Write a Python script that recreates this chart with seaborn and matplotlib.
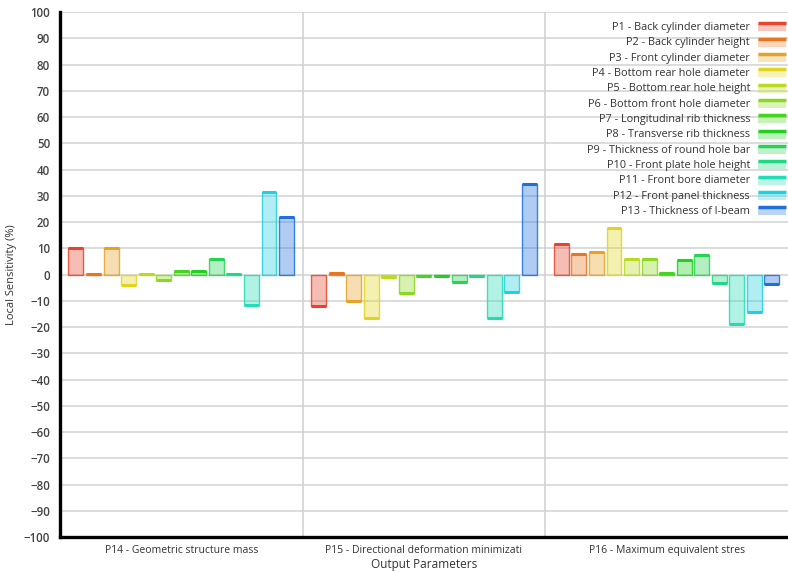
import numpy as np
import pandas as pd
import matplotlib
matplotlib.use("Agg")
import matplotlib.pyplot as plt
import seaborn as sns
from matplotlib.patches import Rectangle
from matplotlib.lines import Line2D
from matplotlib.colors import to_rgba
from matplotlib.legend_handler import HandlerBase

# --------------------------
# Data
# --------------------------
params = [
    "P1 - Back cylinder diameter",
    "P2 - Back cylinder height",
    "P3 - Front cylinder diameter",
    "P4 - Bottom rear hole diameter",
    "P5 - Bottom rear hole height",
    "P6 - Bottom front hole diameter",
    "P7 - Longitudinal rib thickness",
    "P8 - Transverse rib thickness",
    "P9 - Thickness of round hole bar",
    "P10 - Front plate hole height",
    "P11 - Front bore diameter",
    "P12 - Front panel thickness",
    "P13 - Thickness of l-beam",
]
outputs = [
    "P14 - Geometric structure mass",
    "P15 - Directional deformation minimizati",
    "P16 - Maximum equivalent stres",
]
p14_values = [10.3, 0.2, 10.3, -4.0, 0.2, -2.0, 1.5, 1.2, 5.8, 0.2, -11.5, 31.3, 21.8]
p15_values = [-12.0, 0.5, -10.2, -16.4, -1.0, -7.0, -0.5, -0.6, -2.8, -0.6, -16.4, -6.7, 34.6]
p16_values = [11.8, 8.0, 8.5, 17.6, 5.8, 6.1, 0.6, 5.5, 7.5, -3.2, -18.7, -14.1, -3.7]

colors = ["#e8432b", "#e8761f", "#e6a323", "#e2d41c", "#bcd91c", "#8ad81f",
          "#46d41c", "#1fd21f", "#26d352", "#1fd882", "#22dcb4", "#1fd0e0", "#1f6fde"]

df = pd.DataFrame({
    "output": np.repeat(outputs, len(params)),
    "param": params * len(outputs),
    "value": p14_values + p15_values + p16_values,
})

# --------------------------
# Plot
# --------------------------
sns.set_style("white")
plt.rcParams["font.family"] = ["Open Sans", "DejaVu Sans"]

fig = plt.figure(figsize=(7.88, 5.72), dpi=100)
ax = fig.add_axes([0.076, 0.061, 0.924, 0.918])

sns.barplot(data=df, x="output", y="value", hue="param", hue_order=params,
            palette=colors, width=0.94, gap=0.15, legend=False, ax=ax)

# light fill, coloured edge, darker cap at the bar end
for cont, col in zip(ax.containers, colors):
    for bar in cont:
        bar.set_facecolor(to_rgba(col, 0.35))
        bar.set_edgecolor(to_rgba(col, 0.85))
        bar.set_linewidth(1.0)
        bar.set_zorder(3)
        x0 = bar.get_x()
        y_end = bar.get_y() + bar.get_height()
        ax.plot([x0, x0 + bar.get_width()], [y_end, y_end], color=col, lw=2.2,
                solid_capstyle="butt", zorder=4)

ax.set_xlim(-0.5, 2.5)
ax.set_ylim(-100, 100)
ax.set_yticks(np.arange(-100, 101, 10))
ax.yaxis.grid(True, color="#d2d2d2", lw=1.1)
ax.set_axisbelow(True)
for xs in [0.5, 1.5]:
    ax.axvline(xs, color="#cfcfcf", lw=1.1, zorder=1)
ax.set_xticks([0.5, 1.5], minor=True)
ax.tick_params(axis="x", which="minor", length=6, color="#cfcfcf", width=1.1)
ax.tick_params(axis="x", which="major", length=0, pad=6, labelsize=7.5, labelcolor="#333333")
ax.tick_params(axis="y", length=4, width=1.2, color="black", pad=3, labelsize=8.3,
               labelcolor="#444444")
for lab in ax.get_yticklabels():
    lab.set_fontweight("semibold")

for side in ["top", "right"]:
    ax.spines[side].set_visible(False)
for side in ["left", "bottom"]:
    ax.spines[side].set_color("black")
    ax.spines[side].set_linewidth(2.4)

ax.set_xlabel("Output Parameters", fontsize=8.5, color="#333333", labelpad=1)
ax.set_ylabel("Local Sensitivity (%)", fontsize=8, color="#333333", labelpad=5)


# legend swatch: light block with a dark line on top
class SwatchHandler(HandlerBase):
    def create_artists(self, legend, orig_handle, xdescent, ydescent,
                       width, height, fontsize, trans):
        col = orig_handle.get_edgecolor()
        top = -ydescent + height * 0.85
        block = Rectangle((-xdescent, top - height * 0.95), width, height * 0.95,
                          facecolor=(col[0], col[1], col[2], 0.3), edgecolor="none",
                          transform=trans)
        line = Line2D([-xdescent, -xdescent + width], [top, top], color=col,
                      lw=2.5, solid_capstyle="butt", transform=trans)
        return [block, line]


handles = [Rectangle((0, 0), 1, 1, edgecolor=c) for c in colors]
leg = ax.legend(handles, params, loc="upper right", bbox_to_anchor=(1.0, 0.985),
                markerfirst=False, frameon=False, fontsize=7.8, handlelength=2.6,
                handleheight=0.8, handletextpad=0.7, labelspacing=0.4,
                borderaxespad=0, borderpad=0.2,
                handler_map={Rectangle: SwatchHandler()})
for t in leg.get_texts():
    t.set_color("#333333")

fig.savefig("out.png", dpi=100, facecolor="white")
